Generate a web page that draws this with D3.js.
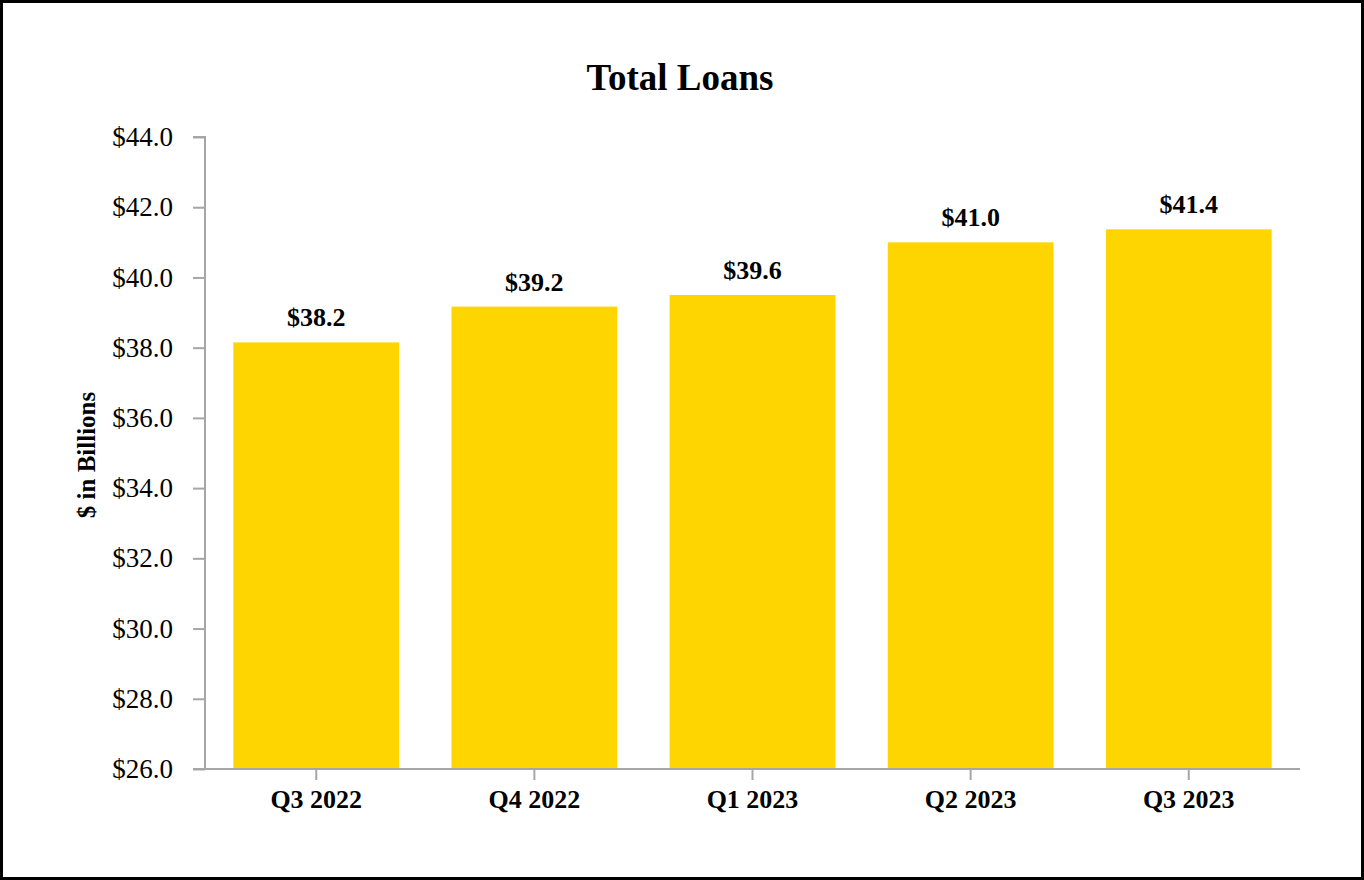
<!DOCTYPE html>
<html>
<head>
<meta charset="utf-8">
<script src="https://cdn.jsdelivr.net/npm/d3@7"></script>
<style>
  html, body { margin: 0; padding: 0; background: #fff; }
  svg { display: block; }
</style>
</head>
<body>
<svg id="chart" width="1364" height="880"></svg>
<script>
const categories = ["Q3 2022", "Q4 2022", "Q1 2023", "Q2 2023", "Q3 2023"];
const loans = [38.15, 39.17, 39.5, 41.0, 41.37];
const valueLabels = ["$38.2", "$39.2", "$39.6", "$41.0", "$41.4"];
const yTicks = [26, 28, 30, 32, 34, 36, 38, 40, 42, 44];
const chartTitle = "Total Loans";
const yTitle = "$ in Billions";

const svg = d3.select("#chart");
const W = 1364, H = 880;
const font = "'Liberation Serif', 'Times New Roman', serif";
const axisColor = "#a6a6a6";
const barColor = "#FFD500";

// outer border
svg.append("rect")
  .attr("x", 1.5).attr("y", 1.5)
  .attr("width", W - 3).attr("height", H - 3)
  .attr("fill", "#fff").attr("stroke", "#000").attr("stroke-width", 3);

const x0 = 205, x1 = 1300, yTop = 137, yBot = 769;

const x = d3.scaleBand().domain(categories).range([x0, x1])
  .paddingInner(0.24).paddingOuter(0.13);
const y = d3.scaleLinear().domain([26, 44]).range([yBot, yTop]);

// title
svg.append("text")
  .attr("x", 680).attr("y", 90)
  .attr("text-anchor", "middle")
  .attr("font-family", font).attr("font-weight", "bold")
  .attr("font-size", 37).attr("fill", "#000")
  .text(chartTitle);

// bars
svg.append("g").selectAll("rect")
  .data(loans)
  .join("rect")
  .attr("x", (d, i) => x(categories[i]))
  .attr("y", d => y(d))
  .attr("width", x.bandwidth())
  .attr("height", d => y(26) - y(d))
  .attr("fill", barColor);

// value labels
svg.append("g").selectAll("text")
  .data(loans)
  .join("text")
  .attr("x", (d, i) => x(categories[i]) + x.bandwidth() / 2)
  .attr("y", d => y(d) - 16)
  .attr("text-anchor", "middle")
  .attr("font-family", font).attr("font-weight", "bold")
  .attr("font-size", 26).attr("fill", "#000")
  .text((d, i) => valueLabels[i]);

// y axis
const yAxis = d3.axisLeft(y).tickValues(yTicks).tickSize(12).tickPadding(20)
  .tickFormat(d => "$" + d3.format(".1f")(d));
const gy = svg.append("g").attr("transform", `translate(${x0},0)`).call(yAxis);
gy.select(".domain").attr("stroke", axisColor).attr("stroke-width", 2)
  .attr("d", `M-12,${yTop}H0V${yBot}`);
gy.selectAll(".tick line").attr("stroke", axisColor).attr("stroke-width", 2);
gy.selectAll(".tick text").attr("font-family", font).attr("font-size", 27).attr("fill", "#000");

// x axis
const xAxis = d3.axisBottom(x).tickSize(11).tickPadding(10).tickSizeOuter(0);
const gx = svg.append("g").attr("transform", `translate(0,${yBot})`).call(xAxis);
gx.select(".domain").attr("stroke", axisColor).attr("stroke-width", 2)
  .attr("d", `M${x0 - 12},0H${x1}`);
gx.selectAll(".tick line").attr("stroke", axisColor).attr("stroke-width", 2);
gx.selectAll(".tick text").attr("font-family", font).attr("font-weight", "bold")
  .attr("font-size", 26).attr("fill", "#000");

// y title
svg.append("text")
  .attr("transform", "translate(95,455) rotate(-90)")
  .attr("text-anchor", "middle")
  .attr("font-family", font).attr("font-weight", "bold")
  .attr("font-size", 25).attr("fill", "#000")
  .text(yTitle);
</script>
</body>
</html>
